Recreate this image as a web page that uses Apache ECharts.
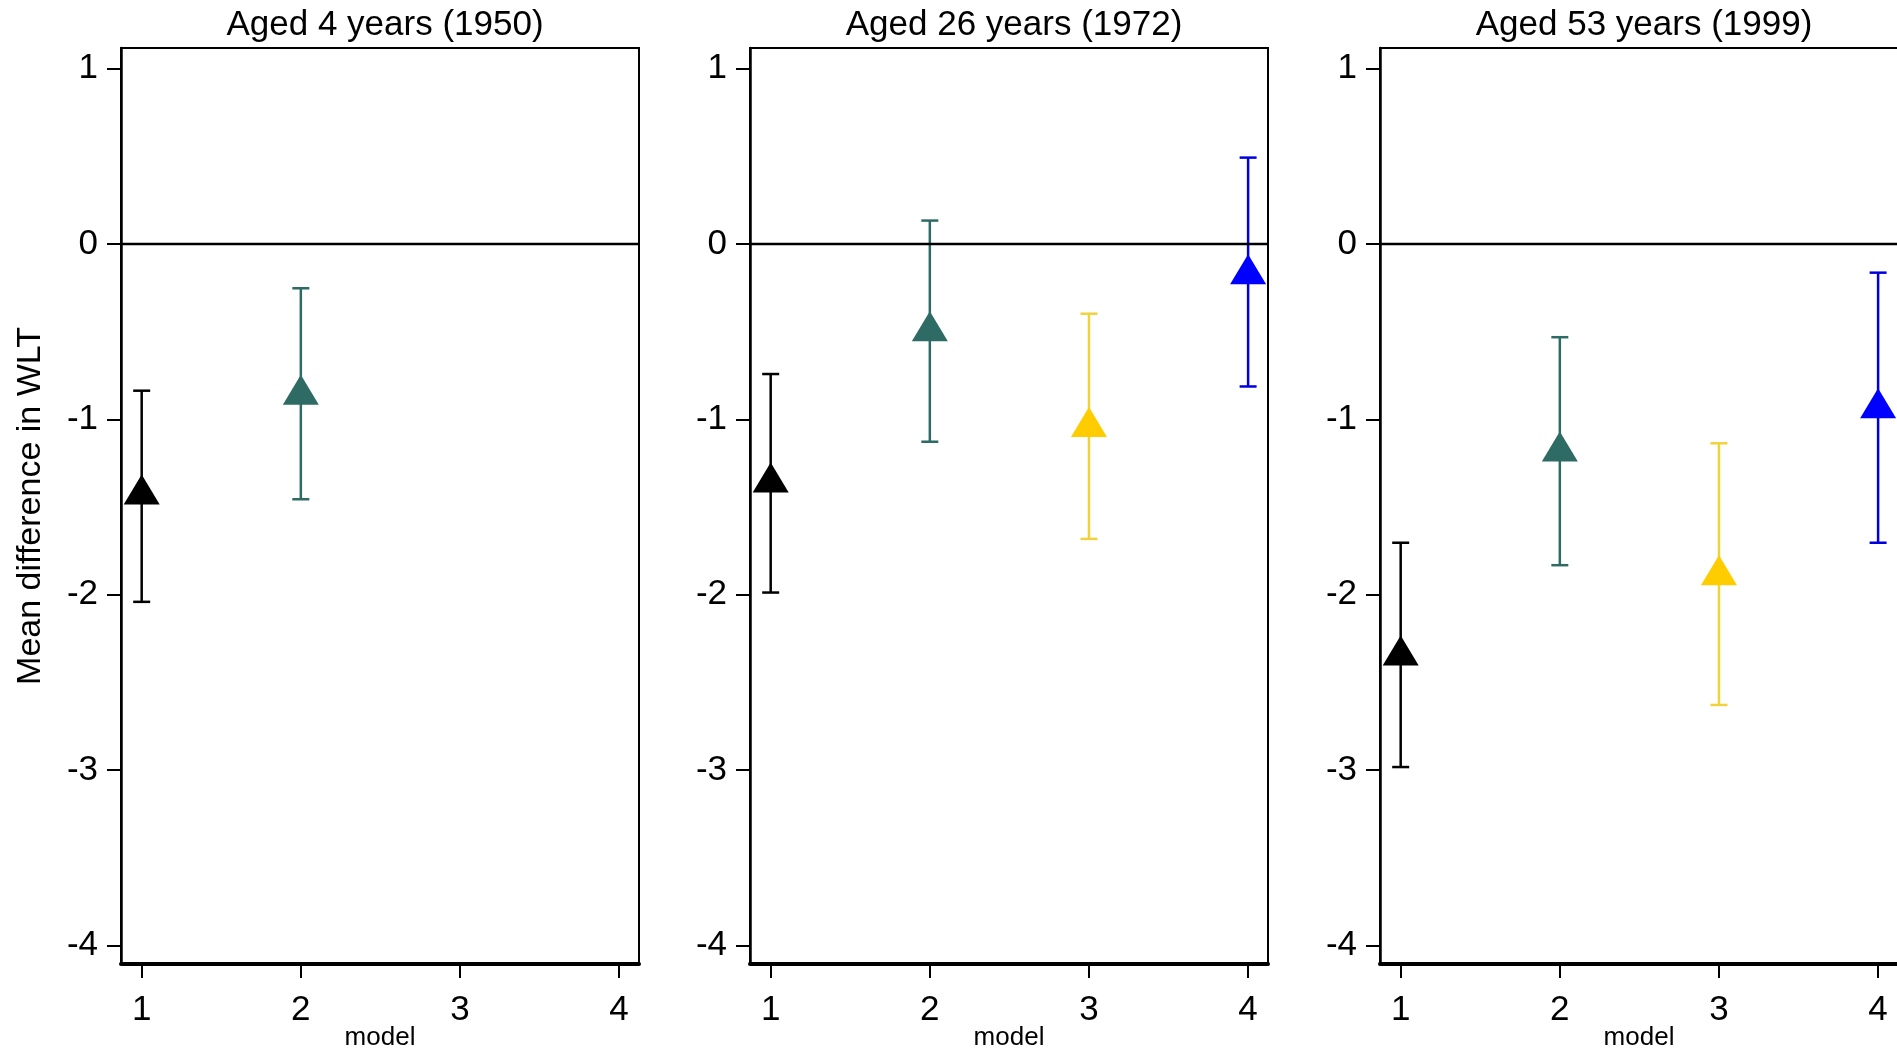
<!DOCTYPE html>
<html>
<head>
<meta charset="utf-8">
<title>Mean difference in WLT by model</title>
<script src="https://cdn.jsdelivr.net/npm/echarts@6/dist/echarts.min.js"></script>
<style>
  html, body { margin: 0; padding: 0; background: #fff; }
  #main { width: 1897px; height: 1055px; }
</style>
</head>
<body>
<div id="main"></div>
<script>
// panels (one per sweep) and models
var panelTitles = ["Aged 4 years (1950)", "Aged 26 years (1972)", "Aged 53 years (1999)"];
var models = [1, 2, 3, 4];
var xTicks = [1, 2, 3, 4];
var yTicks = [-4, -3, -2, -1, 0, 1];

// point estimates and 95% CI (null = not estimated)
var est1950 = [-1.40, -0.83, null, null];
var lo1950 = [-2.04, -1.455, null, null];
var hi1950 = [-0.836, -0.252, null, null];

var est1972 = [-1.331, -0.468, -1.014, -0.143];
var lo1972 = [-1.987, -1.127, -1.681, -0.812];
var hi1972 = [-0.741, 0.134, -0.397, 0.493];

var est1999 = [-2.317, -1.154, -1.860, -0.907];
var lo1999 = [-2.982, -1.831, -2.628, -1.703];
var hi1999 = [-1.703, -0.531, -1.136, -0.163];

var estimates = [est1950, est1972, est1999];
var lowers = [lo1950, lo1972, lo1999];
var uppers = [hi1950, hi1972, hi1999];

// styling
var markerColors = ["#000000", "#2e6b64", "#ffcc00", "#0000ff"];
var ciColors = ["#000000", "#2e6b64", "#f0d33c", "#0000dd"];
var FONT = "Liberation Sans, Arial, Helvetica, sans-serif";
var gridLefts = [121, 750, 1380];
var gridWidth = 518;
var gridTop = 48;
var gridHeight = 916;

var myChart = echarts.init(document.getElementById("main"));

function errorBar(params, api) {
  var x = api.value(0);
  var top = api.coord([x, api.value(2)]);
  var bot = api.coord([x, api.value(1)]);
  var color = api.visual("color");
  var half = 8.5;
  var style = { stroke: color, lineWidth: 2.5 };
  return {
    type: "group",
    children: [
      { type: "line", shape: { x1: top[0], y1: top[1], x2: bot[0], y2: bot[1] }, style: style },
      { type: "line", shape: { x1: top[0] - half, y1: top[1], x2: top[0] + half, y2: top[1] }, style: style },
      { type: "line", shape: { x1: bot[0] - half, y1: bot[1], x2: bot[0] + half, y2: bot[1] }, style: style }
    ]
  };
}

var grids = [], xAxes = [], yAxes = [], titles = [], series = [];

panelTitles.forEach(function (name, p) {
  grids.push({
    left: gridLefts[p], top: gridTop, width: gridWidth, height: gridHeight,
    outerBoundsMode: "none",
    show: true, borderColor: "#000", borderWidth: 2, backgroundColor: "#fff"
  });

  titles.push({
    text: name,
    left: gridLefts[p] + gridWidth / 2,
    top: 3,
    textAlign: "center",
    textStyle: { fontFamily: FONT, fontSize: 35, fontWeight: "normal", color: "#000" }
  });

  xAxes.push({
    gridIndex: p,
    type: "value",
    min: 0.87,
    max: 4.125,
    name: "model",
    nameLocation: "middle",
    nameGap: 61,
    nameMoveOverlap: false,
    nameTextStyle: { fontFamily: FONT, fontSize: 26, color: "#000" },
    splitLine: { show: false },
    axisLine: { onZero: false, lineStyle: { color: "#000", width: 4 } },
    axisTick: { customValues: xTicks, length: 14, lineStyle: { color: "#000", width: 2 } },
    axisLabel: { customValues: xTicks, margin: 29, fontFamily: FONT, fontSize: 35, color: "#000" }
  });

  yAxes.push({
    gridIndex: p,
    type: "value",
    min: -4.105,
    max: 1.118,
    name: p === 0 ? "Mean difference in WLT" : "",
    nameLocation: "middle",
    nameRotate: 90,
    nameGap: 73,
    nameTextStyle: { fontFamily: FONT, fontSize: 34, color: "#000" },
    splitLine: { show: false },
    axisLine: { onZero: false, lineStyle: { color: "#000", width: 2.5 } },
    axisTick: { customValues: yTicks, length: 14, lineStyle: { color: "#000", width: 2 } },
    axisLabel: {
      customValues: yTicks, margin: 23, padding: [6, 0, 0, 0],
      fontFamily: FONT, fontSize: 35, color: "#000"
    }
  });

  var barData = [], pointData = [];
  models.forEach(function (m, i) {
    if (estimates[p][i] === null) return;
    barData.push({ value: [m, lowers[p][i], uppers[p][i]], itemStyle: { color: ciColors[i] } });
    pointData.push({ value: [m, estimates[p][i]], itemStyle: { color: markerColors[i], opacity: 1 } });
  });

  series.push({
    type: "custom",
    xAxisIndex: p,
    yAxisIndex: p,
    renderItem: errorBar,
    encode: { x: 0, y: [1, 2] },
    data: barData,
    z: 2,
    silent: true
  });

  series.push({
    type: "scatter",
    xAxisIndex: p,
    yAxisIndex: p,
    symbol: "triangle",
    symbolSize: [36, 30],
    itemStyle: { opacity: 1 },
    data: pointData,
    z: 3,
    silent: true,
    markLine: {
      silent: true,
      symbol: "none",
      label: { show: false },
      lineStyle: { color: "#000", width: 2.4, type: "solid" },
      data: [{ yAxis: 0 }]
    }
  });
});

var option = {
  backgroundColor: "#fff",
  animation: false,
  title: titles,
  grid: grids,
  xAxis: xAxes,
  yAxis: yAxes,
  series: series
};

option && myChart.setOption(option);
</script>
</body>
</html>
